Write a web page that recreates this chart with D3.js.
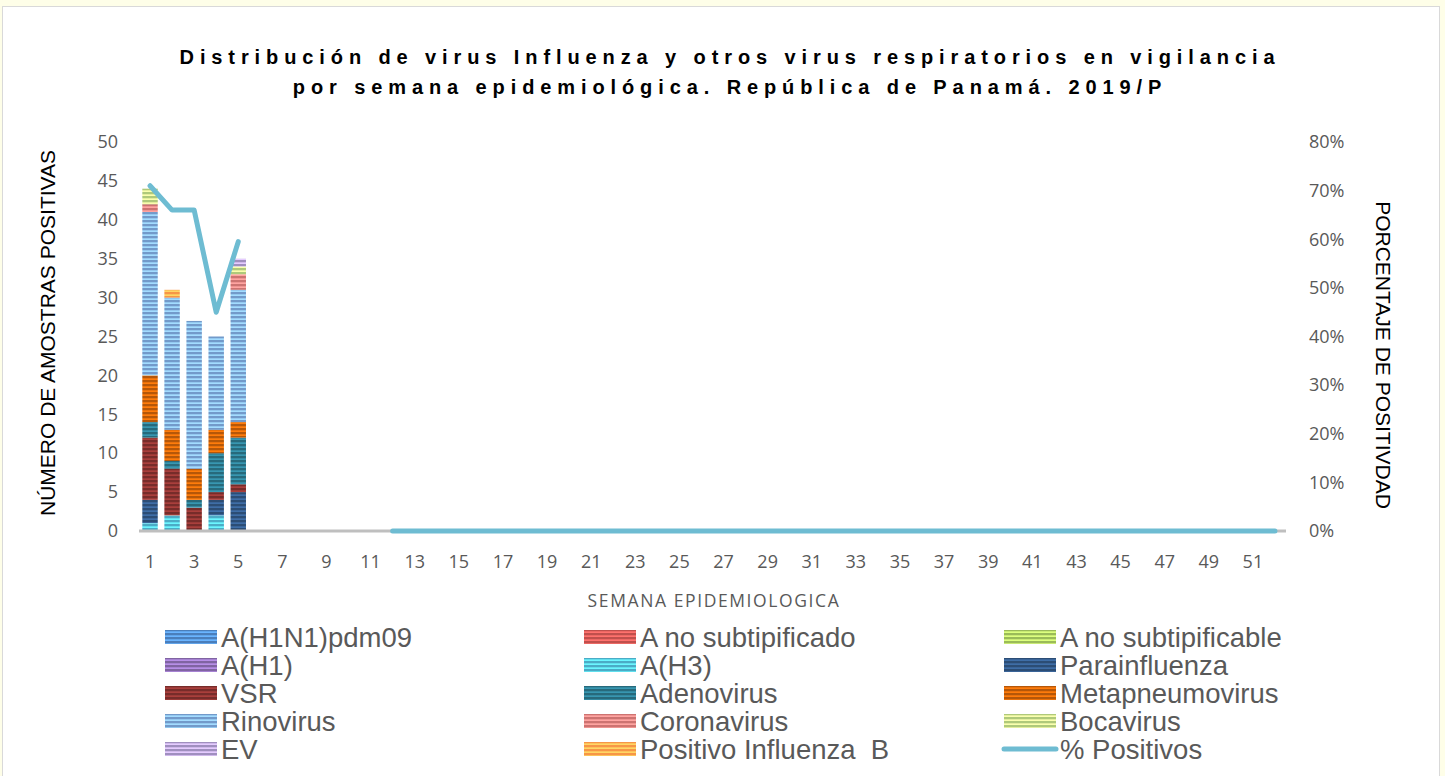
<!DOCTYPE html>
<html>
<head>
<meta charset="utf-8">
<script src="https://cdn.jsdelivr.net/npm/d3@7"></script>
<style>
  body { margin: 0; background: #fefee8; }
  #viz_container { position: absolute; left: 0; top: 0; }
</style>
</head>
<body>
<div id="viz_container"></div>
<script>
// Weeks 1..52
const weeks = d3.range(1, 53);

// Series names (legend order)
const seriesNames = ["A(H1N1)pdm09", "A no subtipificado", "A no subtipificable", "A(H1)", "A(H3)",
  "Parainfluenza", "VSR", "Adenovirus", "Metapneumovirus", "Rinovirus", "Coronavirus", "Bocavirus",
  "EV", "Positivo Influenza  B"];

// Stack order actually seen in the bars (bottom to top)
const stackOrder = ["A(H3)", "Parainfluenza", "VSR", "Adenovirus", "Metapneumovirus", "Rinovirus",
  "A(H1N1)pdm09", "A no subtipificado", "Coronavirus", "A no subtipificable", "Bocavirus", "A(H1)", "EV",
  "Positivo Influenza  B"];

// Counts for weeks 1-5 (others are 0)
const aH3 =            [1, 2, 0, 2, 0];
const parainfluenza =  [3, 0, 0, 2, 5];
const vsr =            [8, 6, 3, 1, 1];
const adenovirus =     [2, 1, 1, 5, 6];
const metapneumo =     [6, 4, 4, 3, 2];
const rinovirus =      [21, 17, 19, 12, 17];
const coronavirus =    [1, 0, 0, 0, 2];
const bocavirus =      [2, 0, 0, 0, 1];
const ev =             [0, 0, 0, 0, 1];
const influenzaB =     [0, 1, 0, 0, 0];

// % positivos (weeks 1-5, then gap, then 0 from week 12)
const pctEarly = [71, 66, 66, 45, 59.5];

const colors = {
  "A(H1N1)pdm09": "#4a7ebb",
  "A no subtipificado": "#c0504d",
  "A no subtipificable": "#9bbb59",
  "A(H1)": "#8064a2",
  "A(H3)": "#4bacc6",
  "Parainfluenza": "#2c4d75",
  "VSR": "#772c2a",
  "Adenovirus": "#276a7c",
  "Metapneumovirus": "#b65708",
  "Rinovirus": "#729aca",
  "Coronavirus": "#cd7371",
  "Bocavirus": "#afc97a",
  "EV": "#a08fbf",
  "Positivo Influenza  B": "#f79646"
};
const lineColor = "#6ebcd2";

// build table
const early = {
  "A(H3)": aH3, "Parainfluenza": parainfluenza, "VSR": vsr, "Adenovirus": adenovirus,
  "Metapneumovirus": metapneumo, "Rinovirus": rinovirus, "Coronavirus": coronavirus,
  "Bocavirus": bocavirus, "EV": ev, "Positivo Influenza  B": influenzaB
};
const table = weeks.map((w, i) => {
  const row = { week: w };
  seriesNames.forEach(s => { row[s] = (early[s] && i < 5) ? early[s][i] : 0; });
  row.pct = i < 5 ? pctEarly[i] : (w >= 12 ? 0 : null);
  return row;
});

const W = 1445, H = 776;
const svg = d3.select("#viz_container").append("svg")
  .attr("width", W).attr("height", H);

// panel
svg.append("rect").attr("x", 2.5).attr("y", 6.5).attr("width", 1437).attr("height", 780)
  .attr("fill", "#fff").attr("stroke", "#d9d9d9");

// stripe patterns
const defs = svg.append("defs");
seriesNames.forEach((s, i) => {
  const p = defs.append("pattern").attr("id", "pat" + i)
    .attr("patternUnits", "userSpaceOnUse").attr("width", 8).attr("height", 4);
  p.append("rect").attr("width", 8).attr("height", 4).attr("fill", d3.color(colors[s]).brighter(1));
  p.append("rect").attr("width", 8).attr("height", 2.3).attr("fill", colors[s]);
});
const patId = s => "url(#pat" + seriesNames.indexOf(s) + ")";

const plot = { left: 139, right: 1286, top: 142, bottom: 531 };

const x = d3.scaleBand().domain(weeks).range([plot.left, plot.right]).paddingInner(0.3).paddingOuter(0.15);
const y = d3.scaleLinear().domain([0, 50]).range([plot.bottom, plot.top]);
const y2 = d3.scaleLinear().domain([0, 80]).range([plot.bottom, plot.top]);

// title
const title = svg.append("text").attr("text-anchor", "middle")
  .style("font-family", "Liberation Sans, Arial, sans-serif").style("font-weight", "bold")
  .style("font-size", "20px").style("letter-spacing", "5.9px").attr("fill", "#000");
title.append("tspan").attr("x", 730).attr("y", 64)
  .text("Distribución de virus Influenza y otros virus respiratorios en vigilancia");
title.append("tspan").attr("x", 730).attr("y", 94)
  .text("por semana epidemiológica. República de Panamá. 2019/P");

const tickFont = g => g.selectAll("text").style("font-family", "Open Sans, sans-serif")
  .style("font-size", "18px").attr("fill", "#595959");

// left axis
const yAxis = d3.axisLeft(y).tickValues(d3.range(0, 51, 5)).tickSize(0).tickPadding(0);
svg.append("g").attr("transform", "translate(118,0)").call(yAxis)
  .call(g => g.select(".domain").remove())
  .call(tickFont);

// right axis
const y2Axis = d3.axisRight(y2).tickValues(d3.range(0, 81, 10)).tickSize(0).tickPadding(0)
  .tickFormat(d => d + "%");
svg.append("g").attr("transform", "translate(1309,0)").call(y2Axis)
  .call(g => g.select(".domain").remove())
  .call(tickFont);

// x axis
const xAxis = d3.axisBottom(x).tickSize(0).tickPadding(0)
  .tickFormat(d => d % 2 === 1 ? d : "");
svg.append("g").attr("transform", "translate(0," + (plot.bottom + 24) + ")").call(xAxis)
  .call(g => g.select(".domain").remove())
  .call(tickFont);

// axis titles
svg.append("text").attr("transform", "translate(55,333) rotate(-90)").attr("text-anchor", "middle")
  .style("font-family", "Liberation Sans, Arial, sans-serif").style("font-size", "21px")
  .attr("fill", "#000").text("NÚMERO DE AMOSTRAS POSITIVAS");
svg.append("text").attr("transform", "translate(1376,355) rotate(90)").attr("text-anchor", "middle")
  .style("font-family", "Liberation Sans, Arial, sans-serif").style("font-size", "21px")
  .attr("fill", "#000").text("PORCENTAJE DE POSITIVDAD");
svg.append("text").attr("x", 714).attr("y", 607).attr("text-anchor", "middle")
  .style("font-family", "Open Sans, sans-serif").style("font-size", "17.5px").style("letter-spacing", "1.6px")
  .attr("fill", "#595959").text("SEMANA EPIDEMIOLOGICA");

// stacked bars
const stacked = d3.stack().keys(stackOrder)(table);
svg.append("g").selectAll("g").data(stacked).join("g")
  .attr("fill", d => patId(d.key))
  .selectAll("rect").data(d => d.filter(v => v[1] > v[0])).join("rect")
  .attr("x", d => x(d.data.week))
  .attr("width", x.bandwidth())
  .attr("y", d => y(d[1]))
  .attr("height", d => y(d[0]) - y(d[1]));

// baseline
svg.append("line").attr("x1", plot.left).attr("x2", plot.right)
  .attr("y1", plot.bottom).attr("y2", plot.bottom)
  .attr("stroke", "#bfbfbf").attr("stroke-width", 3);

// % positivos line
const line = d3.line().defined(d => d.pct !== null)
  .x(d => x(d.week) + x.bandwidth() / 2).y(d => y2(d.pct));
svg.append("path").datum(table).attr("d", line)
  .attr("fill", "none").attr("stroke", lineColor).attr("stroke-width", 5)
  .attr("stroke-linecap", "round").attr("stroke-linejoin", "round");

// legend
const legendItems = seriesNames.concat(["% Positivos"]);
const legend = svg.append("g").selectAll("g").data(legendItems).join("g")
  .attr("transform", (d, i) => {
    const col = i % 3, row = Math.floor(i / 3);
    return "translate(" + [165, 584, 1004][col] + "," + (637 + row * 28) + ")";
  });
legend.each(function(d) {
  const g = d3.select(this);
  if (d === "% Positivos") {
    g.append("line").attr("x1", 0).attr("x2", 52).attr("y1", 0).attr("y2", 0)
      .attr("stroke", lineColor).attr("stroke-width", 5).attr("stroke-linecap", "round");
  } else {
    g.append("rect").attr("x", 0).attr("y", -7).attr("width", 52).attr("height", 14)
      .attr("fill", patId(d));
  }
  g.append("text").attr("x", 56).attr("y", 9.5)
    .style("font-family", "Liberation Sans, Arial, sans-serif").style("font-size", "27.5px")
    .style("white-space", "pre")
    .attr("fill", "#595959").text(d);
});
</script>
</body>
</html>
